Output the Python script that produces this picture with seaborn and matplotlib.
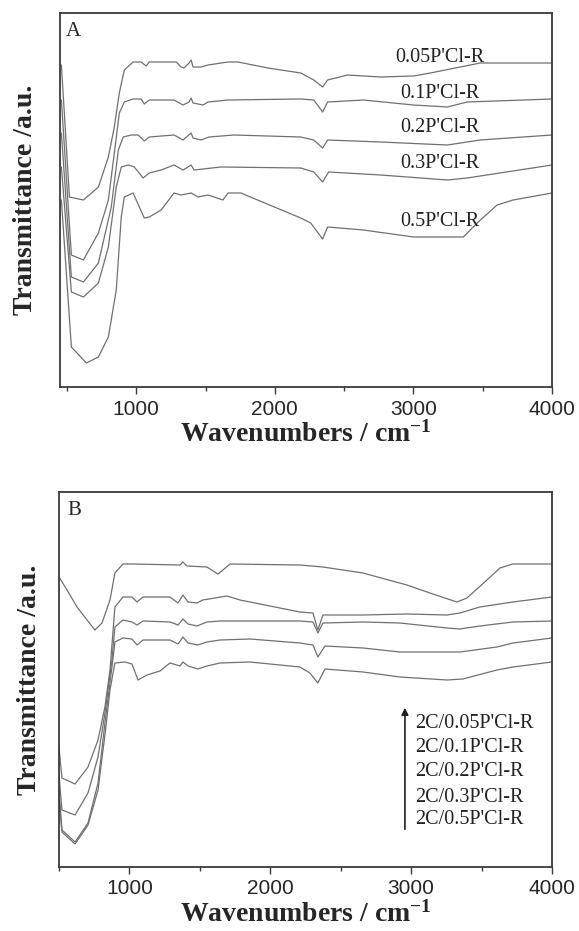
import numpy as np
import pandas as pd
import matplotlib
matplotlib.use("Agg")
import matplotlib.pyplot as plt
import seaborn as sns

# ---------------- data (transmittance in a.u.) ----------------
top_labels = ["0.05P'Cl-R", "0.1P'Cl-R", "0.2P'Cl-R", "0.3P'Cl-R", "0.5P'Cl-R"]

a_005_wn = [460, 518, 619, 727, 799, 842, 878, 914, 978, 1036, 1072, 1094, 1288, 1324, 1345, 1381, 1396, 1410,
            1468, 1518, 1662, 1734, 1950, 2187, 2281, 2345, 2381, 2525, 2763, 3000, 3122, 3338, 3482, 4000]
a_005_t = [335, 203, 200, 213, 243, 273, 307, 330, 338, 338, 334, 338, 338, 333, 332, 337, 340, 333,
           333, 335, 338, 338, 332, 327, 320, 313, 320, 325, 323, 324, 327, 333, 337, 337]

a_01_wn = [460, 532, 619, 727, 799, 842, 878, 914, 978, 1036, 1058, 1094, 1273, 1338, 1381, 1396, 1410, 1482,
           1518, 1662, 2187, 2281, 2345, 2381, 2640, 3000, 3245, 3388, 4000]
a_01_t = [300, 145, 140, 167, 200, 247, 287, 298, 301, 301, 296, 300, 300, 295, 298, 302, 297, 295,
          298, 300, 301, 300, 288, 298, 300, 295, 293, 298, 301]

a_02_wn = [460, 532, 619, 727, 820, 871, 906, 964, 1014, 1058, 1094, 1273, 1338, 1396, 1410, 1468, 1525,
           1705, 2187, 2281, 2345, 2381, 2763, 3245, 3482, 4000]
a_02_t = [267, 123, 118, 137, 193, 250, 263, 265, 265, 259, 263, 265, 260, 267, 262, 260, 263,
          265, 263, 260, 252, 260, 258, 255, 260, 265]

a_03_wn = [460, 532, 619, 727, 799, 856, 892, 942, 986, 1050, 1094, 1180, 1273, 1338, 1396, 1417, 1612,
           2187, 2281, 2345, 2388, 2763, 3245, 3388, 4000]
a_03_t = [233, 108, 103, 117, 153, 213, 233, 235, 233, 222, 227, 230, 235, 230, 235, 230, 233,
          232, 228, 218, 228, 225, 220, 222, 235]

a_05_wn = [460, 532, 640, 727, 799, 856, 892, 914, 978, 1000, 1058, 1094, 1180, 1273, 1324, 1396, 1446,
           1518, 1626, 1662, 1755, 2187, 2259, 2345, 2381, 2640, 3000, 3360, 3460, 3604, 3719, 4000]
a_05_t = [200, 53, 37, 43, 63, 110, 183, 203, 207, 200, 182, 183, 190, 207, 205, 207, 203,
          205, 200, 207, 207, 182, 177, 161, 173, 170, 163, 163, 177, 195, 200, 207]

bottom_labels = ["2C/0.05P'Cl-R", "2C/0.1P'Cl-R", "2C/0.2P'Cl-R", "2C/0.3P'Cl-R", "2C/0.5P'Cl-R"]

b_005_wn = [500, 557, 628, 699, 755, 805, 862, 897, 954, 1025, 1359, 1380, 1408, 1550, 1628, 1664, 1714,
            2210, 2374, 2658, 2970, 3133, 3325, 3396, 3538, 3630, 3722, 4000]
b_005_t = [323, 310, 293, 280, 270, 277, 300, 327, 336, 336, 335, 338, 334, 333, 326, 330, 336,
           335, 333, 327, 315, 307, 298, 302, 320, 332, 336, 336]

b_01_wn = [500, 521, 614, 706, 777, 826, 862, 897, 954, 1018, 1054, 1096, 1288, 1345, 1380, 1416, 1479,
           1522, 1692, 1785, 2210, 2303, 2338, 2374, 2658, 2970, 3254, 3346, 3488, 3722, 4000]
b_01_t = [152, 122, 116, 133, 160, 193, 230, 293, 303, 303, 298, 303, 303, 297, 305, 298, 297,
          300, 304, 300, 288, 287, 270, 285, 285, 286, 285, 287, 293, 298, 303]

b_02_wn = [500, 521, 614, 706, 777, 826, 876, 897, 954, 1018, 1054, 1096, 1288, 1345, 1380, 1416, 1479,
           1550, 1643, 2210, 2303, 2338, 2374, 2658, 2920, 3254, 3346, 3488, 3722, 4000]
b_02_t = [125, 90, 85, 107, 143, 187, 240, 273, 280, 278, 275, 279, 278, 275, 281, 276, 274,
          278, 279, 279, 278, 267, 277, 278, 277, 272, 271, 274, 278, 279]

b_03_wn = [500, 521, 614, 706, 777, 826, 876, 897, 954, 1018, 1054, 1096, 1288, 1345, 1380, 1416, 1486,
           1550, 1643, 1856, 2210, 2303, 2338, 2388, 2658, 2920, 3346, 3609, 3722, 4000]
b_03_t = [110, 70, 58, 77, 117, 177, 233, 258, 262, 261, 255, 260, 260, 256, 263, 257, 255,
          258, 260, 261, 257, 255, 243, 254, 252, 248, 248, 253, 257, 262]

b_05_wn = [500, 521, 614, 706, 777, 826, 862, 897, 968, 1018, 1061, 1125, 1217, 1288, 1359, 1380, 1416,
           1486, 1550, 1643, 1856, 2210, 2281, 2338, 2388, 2658, 2920, 3254, 3367, 3609, 3722, 4000]
b_05_t = [100, 68, 56, 75, 110, 165, 210, 237, 238, 236, 220, 225, 229, 237, 234, 238, 234,
          231, 234, 237, 238, 233, 227, 217, 231, 228, 223, 220, 221, 230, 233, 238]

# ---------------- tables ----------------
def long_table(labels, wns, ts):
    frames = []
    for lab, w, t in zip(labels, wns, ts):
        frames.append(pd.DataFrame({"wn": w, "T": t, "sample": lab}))
    return pd.concat(frames, ignore_index=True)

df_a = long_table(top_labels, [a_005_wn, a_01_wn, a_02_wn, a_03_wn, a_05_wn],
                  [a_005_t, a_01_t, a_02_t, a_03_t, a_05_t])
df_b = long_table(bottom_labels, [b_005_wn, b_01_wn, b_02_wn, b_03_wn, b_05_wn],
                  [b_005_t, b_01_t, b_02_t, b_03_t, b_05_t])

# ---------------- style ----------------
sns.set_style("ticks")
plt.rcParams["font.family"] = ["Liberation Sans", "DejaVu Sans"]
plt.rcParams["mathtext.fontset"] = "custom"
plt.rcParams["mathtext.rm"] = "Liberation Serif:bold"
plt.rcParams["mathtext.bf"] = "Liberation Serif:bold"
plt.rcParams["mathtext.it"] = "Liberation Serif:bold"

line_col = "#707070"
spine_col = "#3a3a3a"
serif = ["Liberation Serif", "DejaVu Serif"]

fig = plt.figure(figsize=(5.79, 9.31), dpi=100)
ax1 = fig.add_axes([60 / 579, 1 - 387 / 931, 492 / 579, 374 / 931])
ax2 = fig.add_axes([59 / 579, 1 - 867 / 931, 493 / 579, 375 / 931])

sns.lineplot(data=df_a, x="wn", y="T", hue="sample", palette=[line_col] * 5, sort=False,
             estimator=None, legend=False, linewidth=0.9, ax=ax1)
sns.lineplot(data=df_b, x="wn", y="T", hue="sample", palette=[line_col] * 5, sort=False,
             estimator=None, legend=False, linewidth=0.9, ax=ax2)

ax1.set_xlim(450, 4000)
ax1.set_ylim(13, 387)
ax2.set_xlim(500, 4000)
ax2.set_ylim(33, 408)

for ax, lab_y in ((ax1, -0.045), (ax2, -0.035)):
    ax.set_xticks([1000, 2000, 3000, 4000])
    ax.set_xticks([500, 1500, 2500, 3500], minor=True)
    ax.set_yticks([])
    ax.tick_params(axis="x", which="major", direction="out", length=5, width=1.0,
                   color=spine_col, labelsize=15, pad=4)
    ax.tick_params(axis="x", which="minor", direction="out", length=3, width=1.0, color=spine_col)
    for s in ax.spines.values():
        s.set_visible(True)
        s.set_color(spine_col)
        s.set_linewidth(1.3)
    ax.set_xlabel("Wavenumbers / cm$^{-1}$", fontsize=20, fontweight="bold", family=serif, labelpad=2)
    ax.set_ylabel("Transmittance /a.u.", fontsize=20, fontweight="bold", family=serif)
    ax.yaxis.set_label_coords(lab_y, 0.5)

ax1.text(0.012, 0.975, "A", transform=ax1.transAxes, ha="left", va="top", fontsize=15, family=serif)
ax2.text(0.016, 0.975, "B", transform=ax2.transAxes, ha="left", va="top", fontsize=15, family=serif)

# labels on panel A
label_wn_a = 3194
label_t_a = [342, 306, 273, 237, 179]
for lab, t in zip(top_labels, label_t_a):
    ax1.text(label_wn_a, t, lab, ha="center", va="center", fontsize=14.5, family=serif, color="#222222")

# arrow + labels on panel B
ax2.annotate("", xy=(2956, 195), xytext=(2956, 68),
             arrowprops=dict(arrowstyle="-|>", color="#222222", lw=1.2, mutation_scale=10))
label_t_b = [177, 152, 128, 103, 80]
for lab, t in zip(bottom_labels, label_t_b):
    ax2.text(3027, t, lab, ha="left", va="center", fontsize=14.5, family=serif, color="#222222")

fig.savefig("out.png", dpi=100)
